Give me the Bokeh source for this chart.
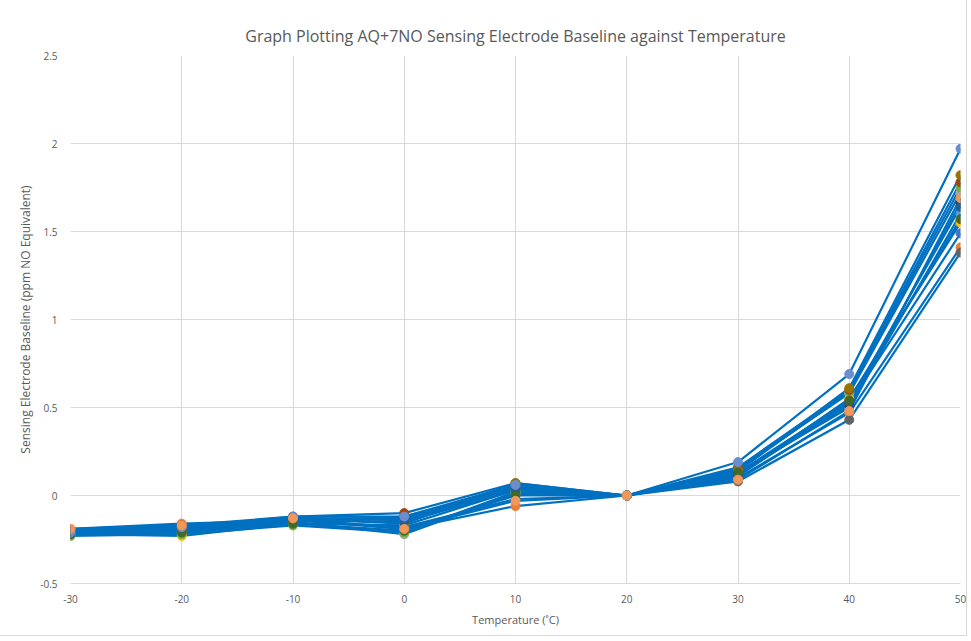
from bokeh.plotting import figure
from bokeh.models import Range1d, FixedTicker, CustomJSTickFormatter
from bokeh.embed import file_html
from bokeh.resources import INLINE

temperature = [-30, -20, -10, 0, 10, 20, 30, 40, 50]
x_ticks = [-30, -20, -10, 0, 10, 20, 30, 40, 50]
y_ticks = [-0.5, 0, 0.5, 1, 1.5, 2, 2.5]

marker_colors = ["#4472C4", "#ED7D31", "#A5A5A5", "#FFC000", "#5B9BD5", "#70AD47",
                 "#264478", "#9E480E", "#636363", "#997300", "#255E91", "#43682B",
                 "#698ED0", "#F1975A"]

s1 = [-0.22, -0.20, -0.15, -0.12, 0.05, 0, 0.12, 0.52, 1.49]
s2 = [-0.19, -0.16, -0.14, -0.19, -0.06, 0, 0.10, 0.47, 1.41]
s3 = [-0.21, -0.21, -0.15, -0.22, 0.01, 0, 0.15, 0.58, 1.72]
s4 = [-0.22, -0.23, -0.16, -0.17, 0.03, 0, 0.11, 0.55, 1.55]
s5 = [-0.20, -0.18, -0.13, -0.14, 0.04, 0, 0.13, 0.50, 1.60]
s6 = [-0.23, -0.22, -0.17, -0.21, 0.02, 0, 0.14, 0.59, 1.75]
s7 = [-0.21, -0.19, -0.13, -0.13, 0.04, 0, 0.12, 0.51, 1.66]
s8 = [-0.20, -0.17, -0.12, -0.10, 0.07, 0, 0.16, 0.60, 1.78]
s9 = [-0.22, -0.20, -0.14, -0.18, -0.02, 0, 0.08, 0.43, 1.38]
s10 = [-0.21, -0.19, -0.13, -0.16, 0.07, 0, 0.14, 0.61, 1.82]
s11 = [-0.20, -0.18, -0.14, -0.15, 0.03, 0, 0.11, 0.53, 1.64]
s12 = [-0.22, -0.21, -0.16, -0.20, 0.00, 0, 0.13, 0.54, 1.57]
s13 = [-0.21, -0.18, -0.12, -0.12, 0.06, 0, 0.19, 0.69, 1.97]
s14 = [-0.19, -0.17, -0.13, -0.19, -0.03, 0, 0.09, 0.48, 1.69]
series = [s1, s2, s3, s4, s5, s6, s7, s8, s9, s10, s11, s12, s13, s14]

FONT = "Open Sans"
GREY = "#595959"

p = figure(output_backend="svg", toolbar_location=None,
           frame_width=890, frame_height=528,
           min_border_left=70, min_border_right=6, min_border_top=55, min_border_bottom=52,
           x_range=Range1d(-30, 50), y_range=Range1d(-0.5, 2.5),
           title="Graph Plotting AQ+7NO Sensing Electrode Baseline against Temperature")
p.styles = {"outline": "1px solid #D9D9D9"}
p.outline_line_color = None
p.background_fill_color = "white"

p.title.align = "center"
p.title.text_font = FONT
p.title.text_font_size = "16px"
p.title.text_font_style = "normal"
p.title.text_color = GREY
p.title.offset = 0
p.title.standoff = 18

for ax in (p.xaxis[0], p.yaxis[0]):
    ax.major_tick_line_color = None
    ax.minor_tick_line_color = None
    ax.major_label_text_font = FONT
    ax.major_label_text_font_size = "10px"
    ax.major_label_text_color = GREY
    ax.axis_label_text_font = FONT
    ax.axis_label_text_font_style = "normal"
    ax.axis_label_text_color = GREY

p.xaxis.axis_label_text_font_size = "11px"
p.yaxis.axis_label_text_font_size = "12px"

p.xaxis.ticker = FixedTicker(ticks=x_ticks)
p.yaxis.ticker = FixedTicker(ticks=y_ticks)
p.yaxis.formatter = CustomJSTickFormatter(code="return tick.toString();")
p.xaxis.formatter = CustomJSTickFormatter(code="return tick.toString();")
p.xaxis.axis_line_color = "#D9D9D9"
p.yaxis.axis_line_color = None
p.xaxis.axis_label = "Temperature (˚C)"
p.yaxis.axis_label = "Sensing Electrode Baseline (ppm NO Equivalent)"
p.xaxis.major_label_standoff = 5
p.xaxis.axis_label_standoff = 6
p.yaxis.major_label_standoff = 7
p.yaxis.axis_label_standoff = 3

p.xgrid.grid_line_color = "#D9D9D9"
p.ygrid.grid_line_color = "#D9D9D9"
p.xgrid.ticker = FixedTicker(ticks=x_ticks)
p.ygrid.ticker = FixedTicker(ticks=y_ticks)

for s in series:
    p.line(temperature, s, line_color="#0070C0", line_width=2.2)
for s, c in zip(series, marker_colors):
    p.scatter(temperature, s, size=9, fill_color=c, line_color=c)

open("out.html", "w").write(file_html(p, INLINE))
